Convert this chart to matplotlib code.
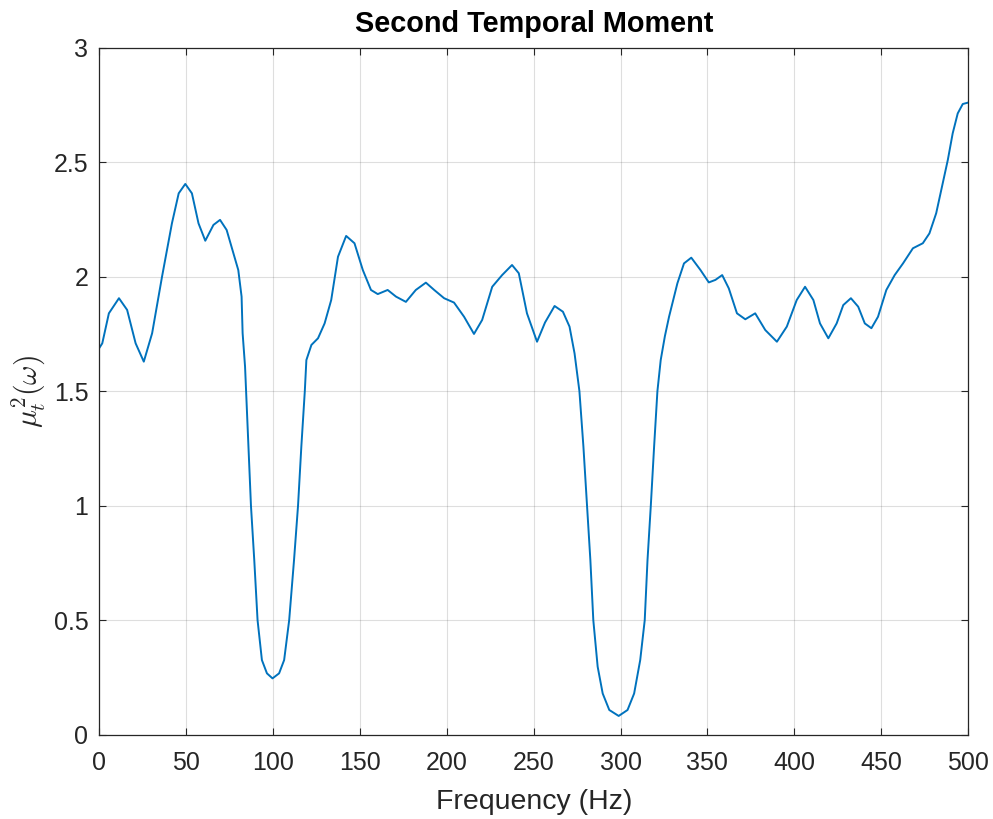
import matplotlib
matplotlib.use("Agg")
import matplotlib.pyplot as plt

freq = [0, 1.6, 5.4, 11.2, 15.9, 20.8, 25.5, 30.3, 36.0, 41.7, 45.6, 49.4, 53.2, 57.0, 60.9,
        65.6, 69.4, 73.2, 77.1, 79.9, 81.8, 82.4, 83.8, 84.4, 85.8, 87.2, 89.1, 91.0, 93.5,
        96.4, 99.6, 103.4, 106.3, 109.2, 112.0, 114.3, 116.2, 118.2, 119.1, 122.0, 125.8,
        129.6, 133.4, 137.3, 142.0, 146.8, 151.6, 156.3, 160.2, 165.9, 170.7, 176.4, 182.1,
        187.9, 192.7, 198.4, 204.1, 209.9, 215.6, 220.3, 226.1, 231.8, 237.5, 241.4, 246.1,
        251.9, 256.5, 262.0, 266.8, 270.6, 273.5, 276.3, 278.6, 280.7, 282.6, 284.3, 286.8,
        289.7, 293.5, 298.9, 304.0, 307.8, 311.3, 313.9, 315.5, 317.4, 319.3, 321.2, 323.1,
        325.5, 327.9, 332.7, 336.5, 340.7, 346.0, 350.8, 354.6, 358.5, 362.3, 367.0, 371.8,
        377.5, 383.3, 390.0, 395.7, 401.4, 406.2, 411.0, 414.8, 419.6, 424.4, 428.2, 432.6,
        436.8, 440.6, 444.4, 448.2, 453.0, 457.8, 462.6, 468.3, 474.0, 477.8, 481.7, 485.5,
        488.4, 491.2, 494.1, 497.0, 500]
moment = [1.69, 1.709, 1.840, 1.906, 1.855, 1.709, 1.629, 1.753, 2.000, 2.233, 2.364, 2.405,
          2.364, 2.233, 2.157, 2.226, 2.248, 2.204, 2.102, 2.029, 1.913, 1.753, 1.607, 1.500,
          1.258, 1.000, 0.763, 0.500, 0.326, 0.268, 0.246, 0.268, 0.326, 0.500, 0.763, 1.000,
          1.258, 1.500, 1.636, 1.702, 1.731, 1.796, 1.898, 2.087, 2.178, 2.146, 2.029, 1.942,
          1.924, 1.942, 1.913, 1.890, 1.942, 1.974, 1.942, 1.906, 1.887, 1.825, 1.750, 1.811,
          1.956, 2.007, 2.051, 2.015, 1.840, 1.716, 1.800, 1.872, 1.847, 1.782, 1.665, 1.500,
          1.258, 1.000, 0.763, 0.500, 0.297, 0.180, 0.108, 0.082, 0.108, 0.180, 0.326, 0.500,
          0.763, 1.000, 1.258, 1.500, 1.636, 1.740, 1.825, 1.971, 2.058, 2.083, 2.029, 1.975,
          1.986, 2.007, 1.949, 1.840, 1.814, 1.840, 1.767, 1.716, 1.782, 1.898, 1.956, 1.898,
          1.796, 1.731, 1.796, 1.876, 1.906, 1.869, 1.796, 1.775, 1.825, 1.942, 2.007, 2.058,
          2.124, 2.146, 2.189, 2.277, 2.408, 2.510, 2.626, 2.713, 2.754, 2.760]

xticks = [0, 50, 100, 150, 200, 250, 300, 350, 400, 450, 500]
yticks = [0, 0.5, 1, 1.5, 2, 2.5, 3]
ytick_labels = ["0", "0.5", "1", "1.5", "2", "2.5", "3"]

plt.rcParams['font.family'] = ['Liberation Sans', 'DejaVu Sans']
plt.rcParams['mathtext.fontset'] = 'cm'

fig = plt.figure(figsize=(9.93, 8.19), dpi=100)
ax = fig.add_axes([0.1002, 0.1029, 0.8746, 0.8389])

ax.plot(freq, moment, color='#0072BD', lw=1.4, solid_joinstyle='round')

ax.set_xlim(0, 500)
ax.set_ylim(0, 3)
ax.set_xticks(xticks)
ax.set_xticklabels([str(t) for t in xticks])
ax.set_yticks(yticks)
ax.set_yticklabels(ytick_labels)
ax.grid(True, color='#262626', alpha=0.15, lw=0.8)
ax.tick_params(direction='in', top=True, right=True, length=5, width=0.8,
               colors='#262626', labelsize=18)
ax.tick_params(axis='x', pad=12)
ax.tick_params(axis='y', pad=8)
for s in ax.spines.values():
    s.set_color('#262626')
    s.set_linewidth(0.9)

ax.set_xlabel('Frequency (Hz)', fontsize=20.5, color='#262626', labelpad=10)
ax.set_ylabel(r'$\mu_t^2(\omega)$', fontsize=21.5, color='#262626', labelpad=4)
ax.set_title('Second Temporal Moment', fontsize=20.8, fontweight='bold', color='black', pad=11)

fig.savefig('out.png', dpi=100)
